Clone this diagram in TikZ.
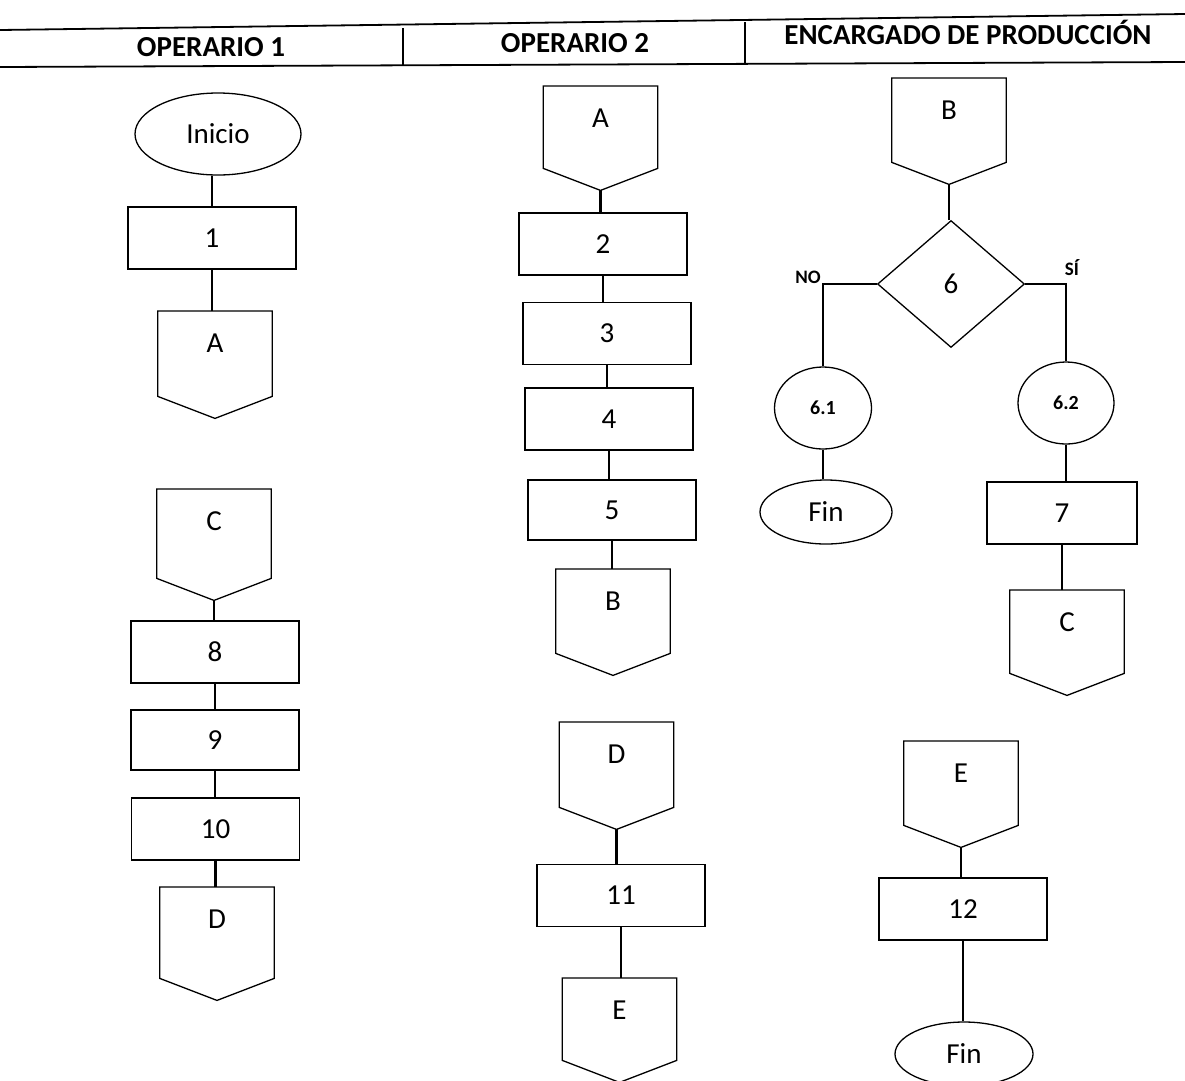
\documentclass[tikz,border=0pt]{standalone}
\usepackage{fontspec}
\setmainfont{Carlito}
\usetikzlibrary{shapes.geometric,calc}

% 1 unit = 1pt, y grows downwards
\tikzset{
  x=1pt, y=-1pt,
  shp/.style={draw, line width=1.3pt},
  lbl/.style={font=\fontsize{29}{31}\selectfont},
  procbox/.style={shp, lbl, rectangle, minimum width=168, minimum height=62, inner sep=0},
  term/.style={shp, lbl, ellipse, inner sep=0},
  decision/.style={shp, lbl, diamond, inner sep=0, minimum width=147, minimum height=127},
  offpg/.style={lbl, rectangle, inner sep=0, anchor=north, minimum width=114, text height=41},
  link/.style={line width=2.6pt},
  rule/.style={line width=1.8pt},
  hdr/.style={font=\bfseries\fontsize{29}{31}\selectfont},
  small/.style={font=\bfseries\fontsize{19}{21}\selectfont},
}

% off-page connector: name, centre x, top y, tip y, letter
\newcommand\offpage[5]{%
  \pgfmathsetmacro\offdepth{#4-#3-41}%
  \node[offpg, text depth=\offdepth] (#1) at (#2,#3) {#5};
  \draw[shp] (#1.north west) -- (#1.north east) -- ([yshift=22]#1.south east)
    -- (#1.south) -- ([yshift=22]#1.south west) -- cycle;
}
% vertical link hanging from the bottom of one node down to the next
\newcommand\drop[2]{\draw[link] (#1.south) -- (#1.south |- #2.north);}

\begin{document}
\begin{tikzpicture}
\useasboundingbox (0,0) rectangle (1185,1080);

% lane headers
\draw[rule] (0,30) -- (1185,14);
\draw[rule] (0,67) -- (1185,62);
\draw[line width=1.2pt] (403,28) -- (403,66);
\draw[line width=1.2pt] (745,22) -- (745,63);
\node[hdr] (h1) at (211,47) {OPERARIO 1};
\node[hdr] (h2) at (575,43) {OPERARIO 2};
\node[hdr] (h3) at (968,32) {ENCARGADO DE PRODUCCIÓN};

% OPERARIO 1
\node[term, minimum width=166, minimum height=82] (ini) at (218,134) {Inicio};
\node[procbox] (b1) at (212,238) {1};
\offpage{A1}{215}{311}{418}{A}
\offpage{C1}{214}{489}{600}{C}
\node[procbox] (b8) at (215,652) {8};
\node[procbox, minimum height=60] (b9) at (215,740) {9};
\node[procbox] (b10) at (215.5,829) {10};
\offpage{D1}{217}{887}{1000}{D}

% OPERARIO 2
\offpage{A2}{600.5}{86}{190}{A}
\node[procbox] (b2) at (603,244) {2};
\node[procbox] (b3) at (607,333.5) {3};
\node[procbox] (b4) at (609,419) {4};
\node[procbox, minimum height=60] (b5) at (612,510) {5};
\offpage{B2}{613}{569}{675}{B}
\offpage{D2}{616.5}{722}{829}{D}
\node[procbox] (b11) at (621,895.5) {11};
\offpage{E2}{619.5}{978}{1082}{E}

% ENCARGADO DE PRODUCCIÓN
\offpage{B3}{949}{78}{184}{B}
\node[decision] (d6) at (951,284) {6};
\node[shp, ellipse, inner sep=0, minimum width=97, minimum height=82,
      font=\bfseries\fontsize{20}{22}\selectfont] (p61) at (823,408) {6.1};
\node[shp, ellipse, inner sep=0, minimum width=96, minimum height=82,
      font=\bfseries\fontsize{20}{22}\selectfont] (p62) at (1066,403) {6.2};
\node[term, minimum width=132, minimum height=64] (fin1) at (826,512) {Fin};
\node[procbox, minimum width=150] (b7) at (1062,513) {7};
\offpage{C3}{1067}{590}{695}{C}
\offpage{E3}{961}{741}{847}{E}
\node[procbox] (b12) at (963,909) {12};
\node[term, minimum width=138, minimum height=64] (fin2) at (964,1054) {Fin};

\node[small] (lno) at (808,277) {NO};
\node[small] (lsi) at (1072,268) {SÍ};

% connectors
\draw[link] (b1.north) -- (b1.north |- ini.south);
\drop{b1}{A1}
\drop{C1}{b8}
\drop{b8}{b9}
\drop{b9}{b10}
\drop{b10}{D1}

\drop{A2}{b2}
\drop{b2}{b3}
\drop{b3}{b4}
\drop{b4}{b5}
\drop{b5}{B2}
\drop{D2}{b11}
\drop{b11}{E2}

\drop{B3}{d6}
\draw[link] (d6.west) -| (p61.north);
\draw[link] (d6.east) -| (p62.north);
\drop{p61}{fin1}
\drop{p62}{b7}
\drop{b7}{C3}
\drop{E3}{b12}
\drop{b12}{fin2}
\end{tikzpicture}
\end{document}
